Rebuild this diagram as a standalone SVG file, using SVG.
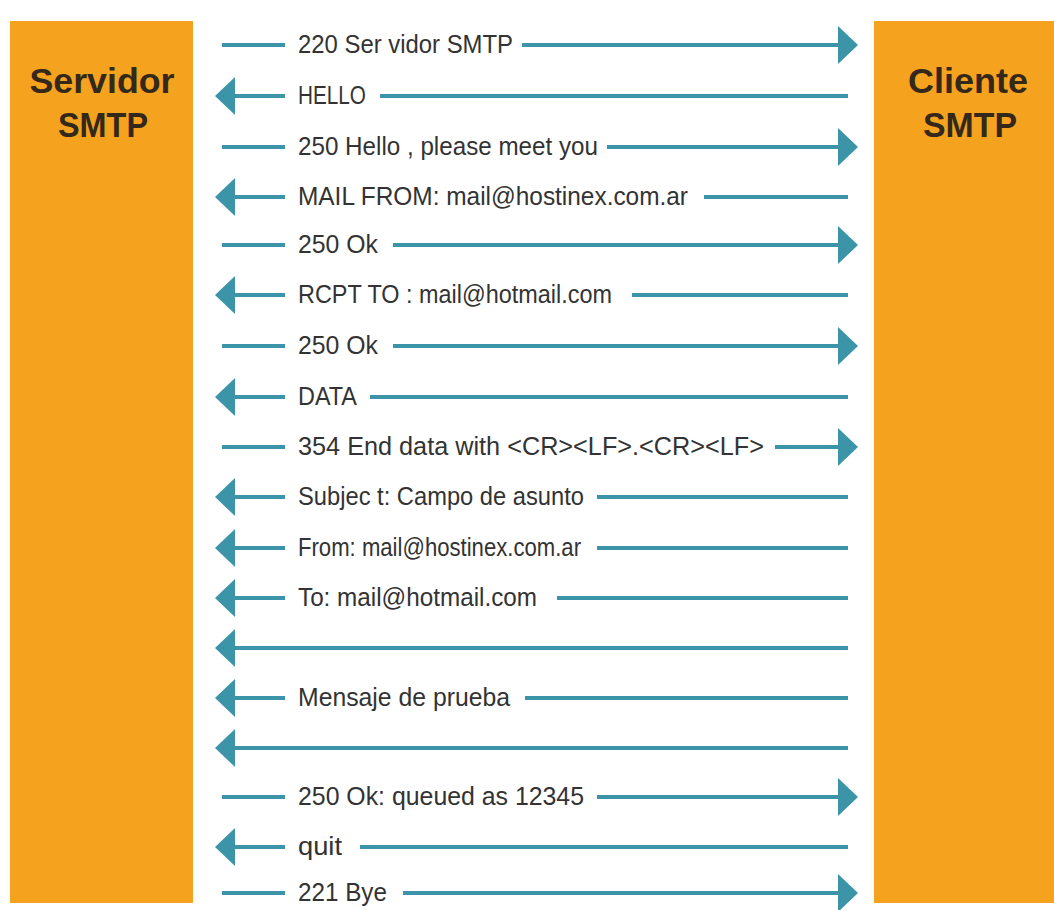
<svg xmlns="http://www.w3.org/2000/svg" width="1054" height="910" viewBox="0 0 1054 910">
<defs>
<style>
.box{fill:#F5A31F}
.title{font-family:"Liberation Sans",Arial,sans-serif;font-weight:bold;font-size:35px;fill:#33281a;text-anchor:middle}
.ln{stroke:#3C94A9;stroke-width:4;fill:none}
.hd{fill:#3C94A9}
.lb{font-family:"Liberation Sans",Arial,sans-serif;font-size:25px;fill:#333}
</style>
<polygon id="ar" class="hd" points="0,0 -20,-19 -20,19"/>
<polygon id="al" class="hd" points="0,0 20,-19 20,19"/>
</defs>
<rect width="1054" height="910" fill="#fff"/>
<g id="servidor">
<rect class="box" x="10" y="21" width="183" height="882"/>
<text class="title" x="102" y="93" textLength="145" lengthAdjust="spacingAndGlyphs">Servidor</text>
<text class="title" x="103" y="137" textLength="90" lengthAdjust="spacingAndGlyphs">SMTP</text>
</g>
<g id="cliente">
<rect class="box" x="874" y="21" width="180" height="882"/>
<text class="title" x="968" y="93" textLength="120" lengthAdjust="spacingAndGlyphs">Cliente</text>
<text class="title" x="970" y="137" textLength="94" lengthAdjust="spacingAndGlyphs">SMTP</text>
</g>
<g id="connectors">
<path class="ln" d="M222 45H285M522 45H840"/><use href="#ar" x="858" y="45"/>
<text class="lb" x="298" y="53" textLength="215" lengthAdjust="spacingAndGlyphs">220 Ser vidor  SMTP</text>
<path class="ln" d="M233 96H285M380 96H848"/><use href="#al" x="215" y="96"/>
<text class="lb" x="298" y="104" textLength="68" lengthAdjust="spacingAndGlyphs">HELLO</text>
<path class="ln" d="M222 147H285M607 147H840"/><use href="#ar" x="858" y="147"/>
<text class="lb" x="298" y="155" textLength="300" lengthAdjust="spacingAndGlyphs">250 Hello , please  meet  you</text>
<path class="ln" d="M233 197H285M704 197H848"/><use href="#al" x="215" y="197"/>
<text class="lb" x="298" y="205" textLength="390" lengthAdjust="spacingAndGlyphs">MAIL  FROM:  mail@hostinex.com.ar</text>
<path class="ln" d="M222 245H285M393 245H840"/><use href="#ar" x="858" y="245"/>
<text class="lb" x="298" y="253" textLength="80" lengthAdjust="spacingAndGlyphs">250  Ok</text>
<path class="ln" d="M233 295H285M632 295H848"/><use href="#al" x="215" y="295"/>
<text class="lb" x="298" y="303" textLength="314" lengthAdjust="spacingAndGlyphs">RCPT  TO : mail@hotmail.com</text>
<path class="ln" d="M222 346H285M393 346H840"/><use href="#ar" x="858" y="346"/>
<text class="lb" x="298" y="354" textLength="80" lengthAdjust="spacingAndGlyphs">250  Ok</text>
<path class="ln" d="M233 397H285M370 397H848"/><use href="#al" x="215" y="397"/>
<text class="lb" x="298" y="405" textLength="59" lengthAdjust="spacingAndGlyphs">DATA</text>
<path class="ln" d="M222 447H285M775 447H840"/><use href="#ar" x="858" y="447"/>
<text class="lb" x="298" y="455" textLength="466" lengthAdjust="spacingAndGlyphs">354 End data with  &lt;CR&gt;&lt;LF&gt;.&lt;CR&gt;&lt;LF&gt;</text>
<path class="ln" d="M233 497H285M597 497H848"/><use href="#al" x="215" y="497"/>
<text class="lb" x="298" y="505" textLength="286" lengthAdjust="spacingAndGlyphs">Subjec t: Campo  de  asunto</text>
<path class="ln" d="M233 548H285M597 548H848"/><use href="#al" x="215" y="548"/>
<text class="lb" x="298" y="556" textLength="283" lengthAdjust="spacingAndGlyphs">From: mail@hostinex.com.ar</text>
<path class="ln" d="M233 598H285M557 598H848"/><use href="#al" x="215" y="598"/>
<text class="lb" x="298" y="606" textLength="239" lengthAdjust="spacingAndGlyphs">To: mail@hotmail.com</text>
<path class="ln" d="M233 648H848"/><use href="#al" x="215" y="648"/>
<path class="ln" d="M233 698H285M525 698H848"/><use href="#al" x="215" y="698"/>
<text class="lb" x="298" y="706" textLength="212" lengthAdjust="spacingAndGlyphs">Mensaje  de  prueba</text>
<path class="ln" d="M233 748H848"/><use href="#al" x="215" y="748"/>
<path class="ln" d="M222 797H285M597 797H840"/><use href="#ar" x="858" y="797"/>
<text class="lb" x="298" y="805" textLength="286" lengthAdjust="spacingAndGlyphs">250 Ok:  queued  as  12345</text>
<path class="ln" d="M233 847H285M360 847H848"/><use href="#al" x="215" y="847"/>
<text class="lb" x="298" y="855" textLength="44" lengthAdjust="spacingAndGlyphs">quit</text>
<path class="ln" d="M222 893H285M403 893H840"/><use href="#ar" x="858" y="893"/>
<text class="lb" x="298" y="901" textLength="89" lengthAdjust="spacingAndGlyphs">221  Bye</text>
</g>
</svg>
